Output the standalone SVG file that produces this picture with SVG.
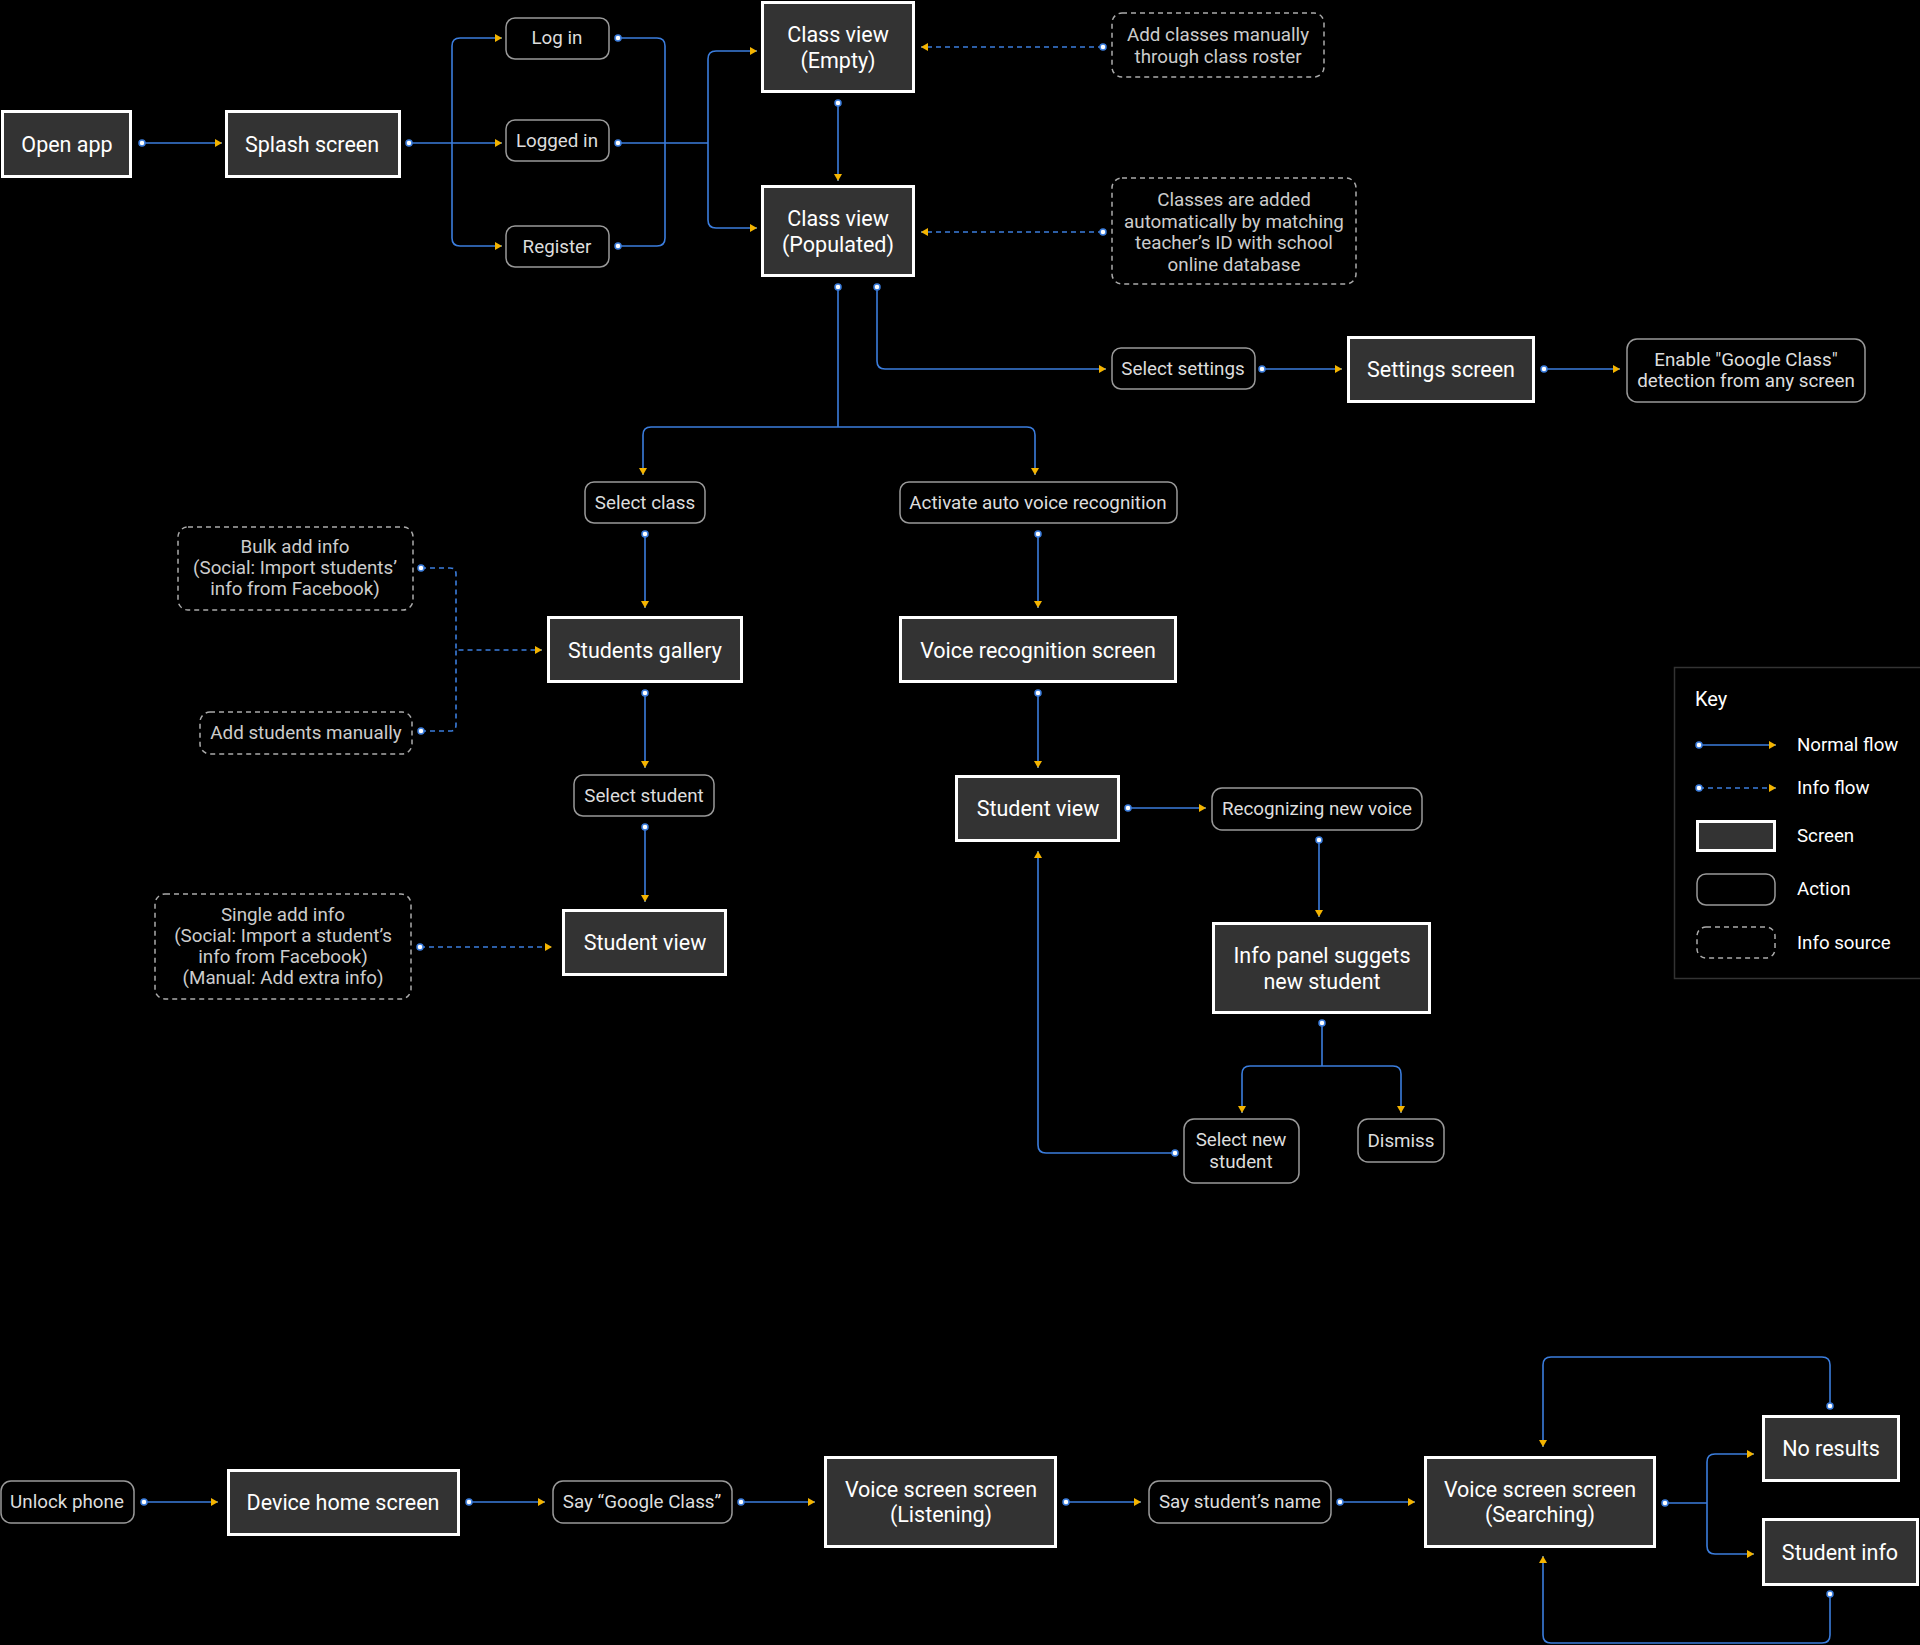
<svg xmlns="http://www.w3.org/2000/svg" width="1920" height="1645" viewBox="0 0 1920 1645">
<defs>
<style>
.scr rect{fill:#333;stroke:#fff;stroke-width:3}
.act rect{fill:#000;stroke:#999;stroke-width:1.5}
.src rect{fill:#000;stroke:#aaa;stroke-width:1.5;stroke-dasharray:5 4}
text{font-family:Roboto,"Liberation Sans",sans-serif;text-anchor:middle;dominant-baseline:central}
.scr text{fill:#fff;font-size:21.5px}
.act text{fill:#ddd;font-size:18.8px}
.src text{fill:#ccc;font-size:18.8px}
.key text{fill:#fff;font-size:18.7px;text-anchor:start}
.ln{fill:none;stroke:#3b7ddd;stroke-width:1.6}
.dl{fill:none;stroke:#3b7ddd;stroke-width:1.6;stroke-dasharray:5 4}
.s{marker-start:url(#dot)}
.e{marker-end:url(#arr)}
</style>
<marker id="dot" markerUnits="userSpaceOnUse" markerWidth="10" markerHeight="10" refX="5" refY="5" orient="auto">
<circle cx="5" cy="5" r="3" fill="#fff" stroke="#3b7ddd" stroke-width="1.5"/>
</marker>
<marker id="arr" markerUnits="userSpaceOnUse" markerWidth="10" markerHeight="10" refX="8" refY="5" orient="auto">
<path d="M1,1 L8,5 L1,9 Z" fill="#f4b400"/>
</marker>
</defs>
<rect width="1920" height="1645" fill="#000"/>

<g id="connectors">
<path class="ln s e" d="M142,143 H222"/>
<path class="ln s e" d="M409,143 H502"/>
<path class="ln e" d="M452,143 V46 Q452,38 460,38 H502"/>
<path class="ln e" d="M452,143 V238 Q452,246 460,246 H502"/>
<path class="ln s" d="M618,38 H657 Q665,38 665,46 V143"/>
<path class="ln s" d="M618,246 H657 Q665,246 665,238 V143"/>
<path class="ln s" d="M618,143 H708"/>
<path class="ln e" d="M708,143 V59 Q708,51 716,51 H757"/>
<path class="ln e" d="M708,143 V220 Q708,228 716,228 H757"/>
<path class="ln s e" d="M838,103 V181"/>
<path class="dl s e" d="M1103,47 H921"/>
<path class="dl s e" d="M1103,232 H921"/>
<path class="ln s e" d="M877,287 V361 Q877,369 885,369 H1106"/>
<path class="ln s e" d="M1262,369 H1342"/>
<path class="ln s e" d="M1544,369 H1620"/>
<path class="ln s" d="M838,287 V427"/>
<path class="ln e" d="M838,427 H651 Q643,427 643,435 V475"/>
<path class="ln e" d="M838,427 H1027 Q1035,427 1035,435 V475"/>
<path class="ln s e" d="M645,534 V608"/>
<path class="ln s e" d="M1038,534 V608"/>
<path class="ln s e" d="M645,693 V768"/>
<path class="ln s e" d="M645,827 V902"/>
<path class="ln s e" d="M1038,693 V768"/>
<path class="ln s e" d="M1128,808 H1206"/>
<path class="ln s e" d="M1319,840 V917"/>
<path class="ln s" d="M1322,1023 V1066"/>
<path class="ln e" d="M1322,1066 H1250 Q1242,1066 1242,1074 V1113"/>
<path class="ln e" d="M1322,1066 H1393 Q1401,1066 1401,1074 V1113"/>
<path class="ln s e" d="M1175,1153 H1046 Q1038,1153 1038,1145 V851"/>
<path class="dl s e" d="M421,568 H450 Q456,568 456,574 V650 H542"/>
<path class="dl s" d="M421,731 H450 Q456,731 456,725 V650"/>
<path class="dl s e" d="M420,947 H552"/>
<path class="ln s e" d="M144,1502 H218"/>
<path class="ln s e" d="M469,1502 H545"/>
<path class="ln s e" d="M741,1502 H815"/>
<path class="ln s e" d="M1066,1502 H1141"/>
<path class="ln s e" d="M1340,1502 H1415"/>
<path class="ln s" d="M1665,1503 H1707"/>
<path class="ln e" d="M1707,1503 V1462 Q1707,1454 1715,1454 H1754"/>
<path class="ln e" d="M1707,1503 V1546 Q1707,1554 1715,1554 H1754"/>
<path class="ln s e" d="M1830,1406 V1365 Q1830,1357 1822,1357 H1551 Q1543,1357 1543,1365 V1447"/>
<path class="ln s e" d="M1830,1594 V1635 Q1830,1643 1822,1643 H1551 Q1543,1643 1543,1635 V1556"/>
</g>

<g id="open-app" class="scr"><rect x="2.5" y="111.5" width="128" height="65"/><text x="67" y="144">Open app</text></g>
<g id="splash" class="scr"><rect x="226.5" y="111.5" width="173" height="65"/><text x="312" y="144">Splash screen</text></g>
<g id="log-in" class="act"><rect x="506" y="18" width="103" height="41" rx="9"/><text x="557" y="38">Log in</text></g>
<g id="logged-in" class="act"><rect x="506" y="120" width="103" height="41" rx="9"/><text x="557" y="141">Logged in</text></g>
<g id="register" class="act"><rect x="506" y="226" width="103" height="41" rx="9"/><text x="557" y="247">Register</text></g>
<g id="class-empty" class="scr"><rect x="762.5" y="2.5" width="151" height="89"/><text x="838" y="34">Class view</text><text x="838" y="60">(Empty)</text></g>
<g id="class-populated" class="scr"><rect x="762.5" y="186.5" width="151" height="89"/><text x="838" y="218">Class view</text><text x="838" y="244">(Populated)</text></g>
<g id="add-classes-manually" class="src"><rect x="1112" y="13" width="212" height="64" rx="10"/><text x="1218" y="35">Add classes manually</text><text x="1218" y="57">through class roster</text></g>
<g id="classes-auto" class="src"><rect x="1112" y="178" width="244" height="106" rx="10"/><text x="1234" y="200">Classes are added</text><text x="1234" y="222">automatically by matching</text><text x="1234" y="243">teacher’s ID with school</text><text x="1234" y="265">online database</text></g>
<g id="select-settings" class="act"><rect x="1112" y="348" width="143" height="41" rx="9"/><text x="1183" y="369">Select settings</text></g>
<g id="settings-screen" class="scr"><rect x="1348.5" y="337.5" width="185" height="64"/><text x="1441" y="369">Settings screen</text></g>
<g id="enable-google" class="act"><rect x="1627" y="339" width="238" height="63" rx="10"/><text x="1746" y="360">Enable "Google Class"</text><text x="1746" y="381">detection from any screen</text></g>
<g id="select-class" class="act"><rect x="585" y="482" width="120" height="41" rx="9"/><text x="645" y="503">Select class</text></g>
<g id="activate-voice" class="act"><rect x="900" y="482" width="277" height="41" rx="9"/><text x="1038" y="503">Activate auto voice recognition</text></g>
<g id="bulk-add" class="src"><rect x="178" y="527" width="235" height="83" rx="10"/><text x="295" y="547">Bulk add info</text><text x="295" y="568">(Social: Import students’</text><text x="295" y="589">info from Facebook)</text></g>
<g id="students-gallery" class="scr"><rect x="548.5" y="617.5" width="193" height="64"/><text x="645" y="650">Students gallery</text></g>
<g id="voice-recognition" class="scr"><rect x="900.5" y="617.5" width="275" height="64"/><text x="1038" y="650">Voice recognition screen</text></g>
<g id="add-students-manually" class="src"><rect x="200" y="712" width="212" height="42" rx="10"/><text x="306" y="733">Add students manually</text></g>
<g id="select-student" class="act"><rect x="574" y="775" width="140" height="41" rx="9"/><text x="644" y="796">Select student</text></g>
<g id="single-add" class="src"><rect x="155" y="894" width="256" height="105" rx="10"/><text x="283" y="915">Single add info</text><text x="283" y="936">(Social: Import a student’s</text><text x="283" y="957">info from Facebook)</text><text x="283" y="978">(Manual: Add extra info)</text></g>
<g id="student-view-left" class="scr"><rect x="563.5" y="910.5" width="162" height="64"/><text x="645" y="942">Student view</text></g>
<g id="student-view-right" class="scr"><rect x="956.5" y="776.5" width="162" height="64"/><text x="1038" y="808">Student view</text></g>
<g id="recognizing-voice" class="act"><rect x="1212" y="788" width="210" height="42" rx="10"/><text x="1317" y="809">Recognizing new voice</text></g>
<g id="info-panel" class="scr"><rect x="1213.5" y="923.5" width="216" height="89"/><text x="1322" y="955">Info panel suggets</text><text x="1322" y="981">new student</text></g>
<g id="select-new-student" class="act"><rect x="1184" y="1119" width="115" height="64" rx="10"/><text x="1241" y="1140">Select new</text><text x="1241" y="1162">student</text></g>
<g id="dismiss" class="act"><rect x="1358" y="1119" width="86" height="43" rx="10"/><text x="1401" y="1141">Dismiss</text></g>

<g id="key" class="key">
<rect x="1674.5" y="667.5" width="250" height="311" fill="#000" stroke="#333" stroke-width="1.5"/>
<text x="1695" y="699" style="font-size:20px">Key</text>
<path class="ln s e" d="M1699,745 H1776"/>
<text x="1797" y="745">Normal flow</text>
<path class="dl s e" d="M1699,788 H1776"/>
<text x="1797" y="788">Info flow</text>
<rect x="1697.5" y="821.5" width="77" height="29" fill="#333" stroke="#fff" stroke-width="3"/>
<text x="1797" y="836">Screen</text>
<rect x="1697" y="874" width="78" height="31" rx="9" fill="#000" stroke="#999" stroke-width="1.5"/>
<text x="1797" y="889">Action</text>
<rect x="1697" y="927" width="78" height="31" rx="9" fill="#000" stroke="#aaa" stroke-width="1.5" stroke-dasharray="5 4"/>
<text x="1797" y="943">Info source</text>
</g>

<g id="unlock-phone" class="act"><rect x="1" y="1481" width="133" height="42" rx="10"/><text x="67" y="1502">Unlock phone</text></g>
<g id="device-home" class="scr"><rect x="228.5" y="1470.5" width="230" height="64"/><text x="343" y="1502">Device home screen</text></g>
<g id="say-google" class="act"><rect x="553" y="1481" width="179" height="42" rx="10"/><text x="642" y="1502">Say “Google Class”</text></g>
<g id="voice-listening" class="scr"><rect x="825.5" y="1457.5" width="230" height="89"/><text x="941" y="1489">Voice screen screen</text><text x="941" y="1514">(Listening)</text></g>
<g id="say-name" class="act"><rect x="1149" y="1481" width="182" height="42" rx="10"/><text x="1240" y="1502">Say student’s name</text></g>
<g id="voice-searching" class="scr"><rect x="1425.5" y="1457.5" width="229" height="89"/><text x="1540" y="1489">Voice screen screen</text><text x="1540" y="1514">(Searching)</text></g>
<g id="no-results" class="scr"><rect x="1763.5" y="1416.5" width="135" height="64"/><text x="1831" y="1448">No results</text></g>
<g id="student-info" class="scr"><rect x="1763.5" y="1519.5" width="154" height="65"/><text x="1840" y="1552">Student info</text></g>
</svg>
